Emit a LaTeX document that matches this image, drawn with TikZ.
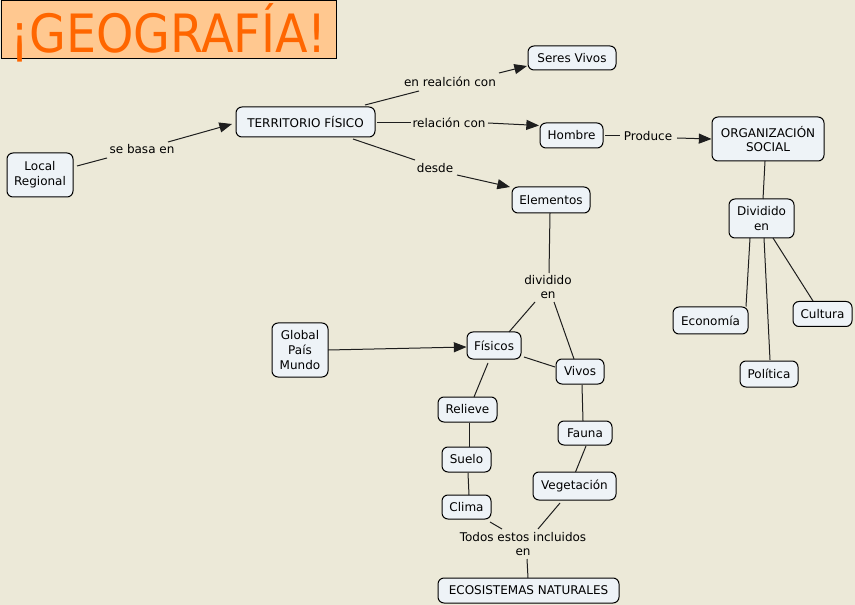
\documentclass[tikz,border=0pt]{standalone}
\usepackage{fontspec}
\setmainfont{DejaVu Sans}
\usetikzlibrary{arrows.meta}
\definecolor{bg}{RGB}{236,233,216}
\definecolor{nodefill}{RGB}{238,243,247}
\definecolor{titlefill}{RGB}{255,200,144}
\definecolor{titletext}{RGB}{255,102,0}
\definecolor{linkc}{RGB}{30,30,30}
\begin{document}
\begin{tikzpicture}[x=0.75pt,y=-0.75pt,
  concept/.style={draw=black, line width=0.75pt, fill=nodefill, rounded corners=4.5pt, inner sep=1pt, align=center, font=\fontsize{9}{11}\selectfont},
  sz/.style 2 args={minimum width=#1*0.75pt, minimum height=#2*0.75pt},
  lab/.style={inner sep=0pt, align=center, font=\fontsize{9}{11}\selectfont},
  link/.style={draw=linkc, line width=0.75pt},
  arr/.style={link, -{Triangle[length=9.5pt,width=7.5pt]}}
]
\path[fill=bg] (0,0) rectangle (855,605);
\useasboundingbox (0,0) rectangle (855,605);

% title
\node[draw=black, line width=0.75pt, fill=titlefill, sz={335}{58}, inner sep=0pt] (title) at (168.5,30) {};
\node[text=titletext, font=\fontsize{36}{40}\selectfont, inner sep=0pt, anchor=base] (titletxt) at (168.5,53) {\scalebox{0.99}[1.1]{¡GEOGRAFÍA!}};

% concepts
\node[concept, sz={66}{44}] (loc) at (40,175) {Local\\Regional};
\node[concept, sz={139}{30}] (terr) at (305.5,122) {TERRITORIO FÍSICO};
\node[concept, sz={88}{24}] (ser) at (572,58) {Seres Vivos};
\node[concept, sz={63}{25}] (hom) at (571.5,135.5) {Hombre};
\node[concept, sz={112}{44}] (org) at (768,139) {ORGANIZACIÓN\\SOCIAL};
\node[concept, sz={78}{26}] (ele) at (551,200) {Elementos};
\node[concept, sz={65}{39}] (div) at (761.5,218.5) {Dividido\\en};
\node[concept, sz={75}{27}] (eco) at (710.5,320.5) {Economía};
\node[concept, sz={59}{25}] (cul) at (822.5,314) {Cultura};
\node[concept, sz={58}{26}] (pol) at (769,374) {Política};
\node[concept, sz={56}{54}] (glo) at (300,350) {Global\\País\\Mundo};
\node[concept, sz={54}{27}] (fis) at (494,345.5) {Físicos};
\node[concept, sz={48}{25}] (viv) at (580,371.5) {Vivos};
\node[concept, sz={59}{25}] (rel) at (467.5,409.5) {Relieve};
\node[concept, sz={54}{24}] (fau) at (585,433) {Fauna};
\node[concept, sz={49}{25}] (sue) at (466.5,459.5) {Suelo};
\node[concept, sz={83}{28}] (veg) at (574.5,486) {Vegetación};
\node[concept, sz={49}{24}] (cli) at (466.5,507) {Clima};
\node[concept, sz={181}{25}] (ecs) at (528.5,590.5) {ECOSISTEMAS NATURALES};

% link labels
\node[lab] (l1) at (142,149) {se basa en};
\node[lab] (l2) at (450,82) {en realción con};
\node[lab] (l3) at (449,123) {relación con};
\node[lab] (l4) at (435,168) {desde};
\node[lab] (l5) at (648,136) {Produce};
\node[lab] (l6) at (548,287) {dividido\\en};
\node[lab] (l7) at (523,544) {Todos estos incluidos\\en};

% connectors
\draw[link] ([shift={(37,-9)}]loc.center) -- ([shift={(-35,9)}]l1.center);
\draw[arr]  ([shift={(26,-7)}]l1.center) -- ([shift={(-73.5,2)}]terr.center);
\draw[link] ([shift={(59.5,-17)}]terr.center) -- ([shift={(-31,9)}]l2.center);
\draw[arr]  ([shift={(49,-9)}]l2.center) -- ([shift={(-45,8)}]ser.center);
\draw[link] ([shift={(71.5,1)}]terr.center) -- ([shift={(-38,0)}]l3.center);
\draw[arr]  ([shift={(39,0)}]l3.center) -- ([shift={(-32.5,-10)}]hom.center);
\draw[link] ([shift={(47.5,17)}]terr.center) -- ([shift={(-20,-8)}]l4.center);
\draw[arr]  ([shift={(22,7)}]l4.center) -- ([shift={(-41,-13)}]ele.center);
\draw[link] ([shift={(33.5,0.5)}]hom.center) -- ([shift={(-28,0)}]l5.center);
\draw[arr]  ([shift={(29,2)}]l5.center) -- ([shift={(-56.5,0)}]org.center);
\draw[link] ([shift={(-3,22)}]org.center) -- ([shift={(1.5,-19.5)}]div.center);
\draw[link] ([shift={(-11.5,19.5)}]div.center) -- ([shift={(35.5,-14)}]eco.center);
\draw[link] ([shift={(2.5,19.5)}]div.center) -- ([shift={(1,-14)}]pol.center);
\draw[link] ([shift={(11.5,19.5)}]div.center) -- ([shift={(-9.5,-13)}]cul.center);
\draw[link] ([shift={(-1,13)}]ele.center) -- ([shift={(1,-14)}]l6.center);
\draw[link] ([shift={(-13,15)}]l6.center) -- ([shift={(15,-13.5)}]fis.center);
\draw[link] ([shift={(6,15)}]l6.center) -- ([shift={(-6,-12.5)}]viv.center);
\draw[arr]  ([shift={(28,0)}]glo.center) -- ([shift={(-27.5,1.5)}]fis.center);
\draw[link] ([shift={(30,11.5)}]fis.center) -- ([shift={(-25,-4.5)}]viv.center);
\draw[link] ([shift={(-6,17.5)}]fis.center) -- ([shift={(6.5,-12.5)}]rel.center);
\draw[link] ([shift={(2,13.5)}]viv.center) -- ([shift={(-2,-12)}]fau.center);
\draw[link] ([shift={(1.5,13.5)}]rel.center) -- ([shift={(2.5,-12.5)}]sue.center);
\draw[link] ([shift={(1,13)}]fau.center) -- ([shift={(1,-14)}]veg.center);
\draw[link] ([shift={(1.5,13.5)}]sue.center) -- ([shift={(2.5,-12)}]cli.center);
\draw[link] ([shift={(23.5,15)}]cli.center) -- ([shift={(-21,-15)}]l7.center);
\draw[link] ([shift={(-14.5,17)}]veg.center) -- ([shift={(15,-15)}]l7.center);
\draw[link] ([shift={(4,15)}]l7.center) -- ([shift={(-0.5,-12.5)}]ecs.center);
\end{tikzpicture}
\end{document}
